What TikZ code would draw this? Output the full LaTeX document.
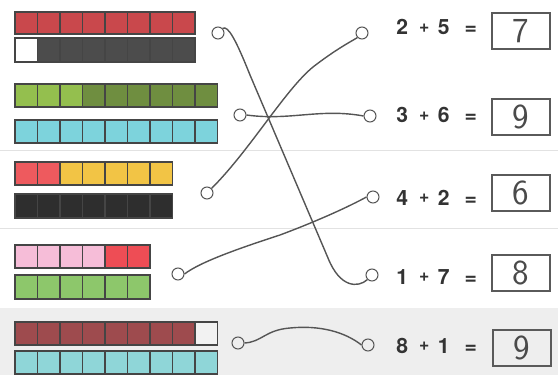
\documentclass[tikz,border=0pt]{standalone}
\usepackage{fontspec}
\newfontfamily\eqfont{TeX Gyre Heros}

\definecolor{cellline}{HTML}{454545}
\definecolor{wireline}{HTML}{555555}
\definecolor{boxline}{HTML}{5A5A5A}
\definecolor{sumtext}{HTML}{333333}
\definecolor{handtext}{HTML}{4A4A4A}
\definecolor{paper}{HTML}{EEEEEE}
\definecolor{rule}{HTML}{E2E2E2}
\definecolor{crimson}{HTML}{C9484C}
\definecolor{slate}{HTML}{4C4C4C}
\definecolor{leaf}{HTML}{94BF4E}
\definecolor{moss}{HTML}{6F8E40}
\definecolor{aqua}{HTML}{7DD3DC}
\definecolor{coral}{HTML}{EE5A5E}
\definecolor{sun}{HTML}{F2C445}
\definecolor{ink}{HTML}{2E2E2E}
\definecolor{rose}{HTML}{F6BDD8}
\definecolor{scarlet}{HTML}{EE4D55}
\definecolor{grass}{HTML}{8DC76B}
\definecolor{maroon}{HTML}{9E4B4E}
\definecolor{blank}{HTML}{F2F2F2}
\definecolor{teal}{HTML}{8FD6D8}

\tikzset{
  cell/.style={draw=cellline, line width=0.6pt},
  ring/.style={circle, draw=wireline, line width=0.6pt, minimum size=0.24cm, inner sep=0pt},
  wire/.style={draw=wireline, line width=0.8pt},
  sum/.style={anchor=base west, inner sep=0pt, text=sumtext,
    font=\eqfont\bfseries\fontsize{12}{14}\selectfont},
  answer/.style={draw=boxline, line width=0.7pt, minimum width=1.16cm, minimum height=0.72cm,
    inner sep=0pt, text=handtext, font=\sffamily\fontsize{20}{22}\selectfont},
}

\newcommand{\cells}[3]{%
  \foreach \col [count=\i from 0] in {#3}
    \filldraw[cell, fill=\col] ({15+22.5*\i},#1) rectangle ({37.5+22.5*\i},#2);
}
\newcommand{\addsum}[2]{#1\hspace{0.22cm}\raisebox{1.2pt}{\fontsize{10}{12}\selectfont+}\hspace{0.17cm}#2\hspace{0.3cm}=}

\begin{document}
\begin{tikzpicture}[x=0.02cm, y=-0.02cm]
  \useasboundingbox (0,0) rectangle (558,375);
  \fill[paper] (0,308) rectangle (558,375);
  \draw[rule] (0,150) -- (558,150);
  \draw[rule] (0,228) -- (558,228);

  \cells{12}{34}{crimson,crimson,crimson,crimson,crimson,crimson,crimson,crimson}
  \cells{38}{62}{white,slate,slate,slate,slate,slate,slate,slate}
  \cells{84}{107}{leaf,leaf,leaf,moss,moss,moss,moss,moss,moss}
  \cells{120}{143}{aqua,aqua,aqua,aqua,aqua,aqua,aqua,aqua,aqua}
  \cells{162}{185}{coral,coral,sun,sun,sun,sun,sun}
  \cells{194}{218}{ink,ink,ink,ink,ink,ink,ink}
  \cells{245}{268}{rose,rose,rose,rose,scarlet,scarlet}
  \cells{275}{299}{grass,grass,grass,grass,grass,grass}
  \cells{322}{345}{maroon,maroon,maroon,maroon,maroon,maroon,maroon,maroon,blank}
  \cells{351}{374}{teal,teal,teal,teal,teal,teal,teal,teal,teal}

  \node[ring] (a1) at (218,33) {};
  \node[ring] (a2) at (240,115) {};
  \node[ring] (a3) at (207,193) {};
  \node[ring] (a4) at (178,274) {};
  \node[ring] (a5) at (238,343) {};

  \node[ring] (b1) at (362,33) {};
  \node[ring] (b2) at (370,116) {};
  \node[ring] (b3) at (373,197) {};
  \node[ring] (b4) at (372,275) {};
  \node[ring] (b5) at (368,345) {};

  \node[sum] (s1) at (396,35) {\addsum{2}{5}};
  \node[sum] (s2) at (396,123) {\addsum{3}{6}};
  \node[sum] (s3) at (396,205) {\addsum{4}{2}};
  \node[sum] (s4) at (396,284) {\addsum{1}{7}};
  \node[sum] (s5) at (396,353) {\addsum{8}{1}};

  \node[answer] (r1) at (521,31) {7};
  \node[answer] (r2) at (521,117) {9};
  \node[answer] (r3) at (521,193) {6};
  \node[answer] (r4) at (521,273) {8};
  \node[answer] (r5) at (522,348) {9};

  \draw[wire] (a1.north east) .. controls (228,25) and (236,40) .. (250,75)
    -- (328,258) .. controls (340,288) and (358,288) .. (b4.south west);
  \draw[wire] (a2.east) .. controls (290,121) and (320,108) .. (b2.west);
  \draw[wire] (a3.north east) .. controls (250,150) and (285,90) .. (313,67)
    .. controls (335,50) and (350,42) .. (b1.south west);
  \draw[wire] (a4.east) .. controls (200,262) and (240,248) .. (280,235)
    .. controls (320,220) and (350,206) .. (b3.west);
  \draw[wire] (a5.east) .. controls (262,342) and (265,330) .. (290,328)
    .. controls (320,325) and (345,332) .. (b5.west);
\end{tikzpicture}
\end{document}
